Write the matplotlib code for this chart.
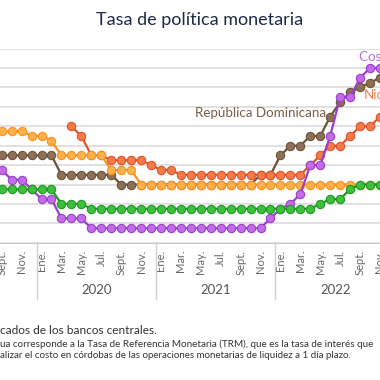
import numpy as np
import matplotlib
matplotlib.use("Agg")
import matplotlib.pyplot as plt
from matplotlib.transforms import blended_transform_factory

plt.rcParams['font.family'] = ['Lato', 'DejaVu Sans']

# meses de sept. 2019 a nov. 2022
meses = ['Sept.', 'Oct.', 'Nov.', 'Dic.'] + \
    ['Ene.', 'Feb.', 'Mar.', 'Abr.', 'May.', 'Jun.', 'Jul.', 'Ago.', 'Sept.', 'Oct.', 'Nov.', 'Dic.'] * 2 + \
    ['Ene.', 'Feb.', 'Mar.', 'Abr.', 'May.', 'Jun.', 'Jul.', 'Ago.', 'Sept.', 'Oct.', 'Nov.']
anios = ['2020', '2021', '2022']

honduras = [5.75, 5.75, 5.75, 5.5, 5.5, 5.25, 4.5, 4.5, 4.5, 4.5, 4.5, 3.75, 3.75, 3.75] + [3.0] * 25
rep_dominicana = [4.5] * 6 + [3.5] * 6 + [3.0] * 14 + [3.5, 3.5, 4.5, 5.0, 5.0, 5.5, 5.5, 6.5, 7.25, 7.75, 8.0, 8.25, 8.5]
nicaragua = [np.nan] * 7 + [6.0, 5.5, 4.5, 4.5, 4.25, 4.25, 4.25, 4.25, 4.0, 3.75, 3.75] + [3.5] * 13 + \
    [4.0, 4.5, 5.0, 5.0, 5.5, 6.0, 6.0, 6.5]
guatemala = [2.75] * 6 + [2.0] * 3 + [1.75] * 23 + [2.0, 2.25, 2.25, 2.75, 3.0, 3.0, 3.0]
costa_rica = [3.75, 3.25, 3.25, 2.75, 2.25, 2.25, 1.25, 1.25, 1.25] + [0.75] * 18 + \
    [1.25, 1.75, 2.0, 2.5, 4.0, 4.0, 5.5, 7.5, 7.5, 8.5, 9.0, 9.0]

x = np.arange(len(meses))

fig = plt.figure(figsize=(3.8, 3.8), dpi=100)
ax = fig.add_axes([0, 1 - 242.7 / 380, 1, 194 / 380])

# orden de dibujo: cafe, rojo, naranja, morado, verde
series = [
    (rep_dominicana, '#6E5238', '#8C7058'),
    (nicaragua, '#E0542A', '#F47A48'),
    (honduras, '#F7941D', '#FDB04C'),
    (costa_rica, '#9B3FCC', '#C46BEA'),
    (guatemala, '#1E9A22', '#3EBF3E'),
]
for vals, c, fc in series:
    ax.plot(x, vals, color=c, lw=1.6, marker='o', ms=6, mfc=fc, mec=c, mew=0.8)

ax.set_xlim(-0.17, 37.83)
ax.set_ylim(0, 10)
ax.set_yticks(range(0, 11))
ax.yaxis.grid(True, color='#dcdcdc', lw=1.2)
ax.set_axisbelow(True)
ax.tick_params(axis='y', left=False, labelleft=False)
for s in ['left', 'right', 'top']:
    ax.spines[s].set_visible(False)
ax.spines['bottom'].set_color('#cccccc')

ticks = x[::2]
ax.set_xticks(ticks)
ax.set_xticklabels([meses[i] for i in ticks], rotation=90, fontsize=8, color='#666666')
ax.tick_params(axis='x', length=0, pad=5)

tr = blended_transform_factory(ax.transData, fig.transFigure)
for j, a in enumerate(anios):
    ax.text(9.5 + 12 * j, 1 - 290 / 380, a, transform=tr, ha='center', va='center',
            fontsize=9.5, color='#555555')
for sep in [3.5, 15.5, 27.5]:
    ax.plot([sep, sep], [1 - 242.7 / 380, 1 - 299 / 380], transform=tr, color='#d0d0d0',
            lw=1, clip_on=False)

ax.text(32.6, 6.7, 'República Dominicana', ha='right', va='center', fontsize=9.6, color='#7A5F45')
ax.text(35.9, 9.56, 'Costa Rica', ha='left', va='center', fontsize=9.6, color='#B46FE0')
ax.text(36.4, 7.6, 'Nicaragua', ha='left', va='center', fontsize=9.6, color='#EE7F50')

fig.text(0.525, 1 - 20 / 380, 'Tasa de política monetaria', ha='center', va='center',
         fontsize=13, color='#1B2A47')

fig.text(0, 1 - 330 / 380, 'cados de los bancos centrales.', ha='left', va='center',
         fontsize=8.6, color='#333333')
fig.text(0, 1 - 344 / 380,
         'ua corresponde a la Tasa de Referencia Monetaria (TRM), que es la tasa de interés que',
         ha='left', va='center', fontsize=7.1, color='#333333')
fig.text(0, 1 - 356 / 380,
         'alizar el costo en córdobas de las operaciones monetarias de liquidez a 1 día plazo.',
         ha='left', va='center', fontsize=7.0, color='#333333')

fig.savefig('out.png', dpi=100)
